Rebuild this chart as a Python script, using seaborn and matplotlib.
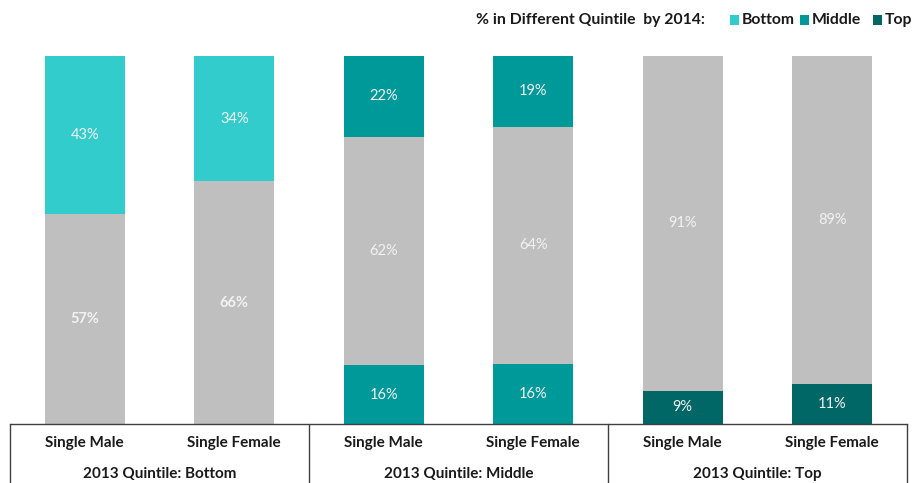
import matplotlib
matplotlib.use("Agg")
import matplotlib.pyplot as plt
import seaborn as sns
from matplotlib.patches import Rectangle

# chart data
groups = ["2013 Quintile: Bottom", "2013 Quintile: Middle", "2013 Quintile: Top"]
people = ["Single Male", "Single Female"]
lower_share = [0, 0, 16, 16.4, 9, 11]      # segment at the base of each bar
same_share = [57, 66, 62, 64.4, 91, 89]    # stayed in the same quintile (grey)
upper_share = [43, 34, 22, 19.2, 0, 0]     # segment at the top of each bar
legend_labels = ["Bottom", "Middle", "Top"]

c_bottom, c_middle, c_top = "#33CCCC", "#009999", "#006666"
c_same = "#BFBFBF"
lower_colors = [c_bottom, c_bottom, c_middle, c_middle, c_top, c_top]
upper_colors = [c_bottom, c_bottom, c_middle, c_middle, c_top, c_top]
bold_same = [True, True, False, False, False, False]

sns.set_style("white")
plt.rcParams["font.family"] = ["Lato", "DejaVu Sans"]

keys = [f"{g}|{p}" for g in groups for p in people]

fig = plt.figure(figsize=(9.14, 4.83), dpi=100)
ax = fig.add_axes([10 / 914, 59 / 483, 897 / 914, 368 / 483])

layers = [
    (lower_share, [0] * 6, lower_colors),
    (same_share, lower_share, [c_same] * 6),
    (upper_share, [a + b for a, b in zip(lower_share, same_share)], upper_colors),
]
for vals, base, cols in layers:
    sns.barplot(x=keys, y=vals, bottom=base, color=c_same, width=0.535,
                saturation=1, ax=ax, order=keys)
    for patch, col in zip(ax.containers[-1], cols):
        patch.set_facecolor(col)
        patch.set_edgecolor("none")

# value labels
for i in range(6):
    segs = [(lower_share[i], 0, False),
            (same_share[i], lower_share[i], bold_same[i]),
            (upper_share[i], lower_share[i] + same_share[i], False)]
    for v, b, bold in segs:
        if v > 0:
            ax.text(i, b + v / 2, f"{v:.0f}%", ha="center", va="center",
                    color="#F2F2F2", fontsize=10.5,
                    fontweight="bold" if bold else "normal")

ax.set_xlim(-0.5, 5.5)
ax.set_ylim(0, 100)
ax.set_yticks([])
ax.set_ylabel("")
ax.set_xticks(range(6))
ax.set_xticklabels(people * 3, fontsize=11, fontweight="bold", color="#1a1a1a")
ax.tick_params(axis="x", length=0, pad=9)
for s in ["left", "right", "top"]:
    ax.spines[s].set_visible(False)
ax.spines["bottom"].set_color("#404040")
ax.spines["bottom"].set_linewidth(1)

# group separators and group labels under the axis
trans = ax.get_xaxis_transform()
for xv in [-0.5, 1.5, 3.5, 5.5]:
    ax.plot([xv, xv], [0, -0.25], color="#404040", lw=1, transform=trans,
            clip_on=False)
for gi, g in enumerate(groups):
    ax.text(gi * 2 + 0.5, -0.135, g, transform=trans, ha="center", va="center",
            fontsize=11, fontweight="bold", color="#1a1a1a")

# legend across the top, laid out by hand
ly = 1 - 20 / 483
fig.text(476 / 914, ly, "% in Different Quintile  by 2014:",
         ha="left", va="center", fontsize=11.3, fontweight="bold", color="#1a1a1a")
for lab, col, x0 in zip(legend_labels, [c_bottom, c_middle, c_top], [730, 800, 873]):
    fig.patches.append(Rectangle((x0 / 914, ly - 4.5 / 483), 9 / 914, 9 / 483,
                                 facecolor=col, edgecolor="none",
                                 transform=fig.transFigure))
    fig.text((x0 + 12) / 914, ly, lab, ha="left", va="center", fontsize=11.3,
             fontweight="bold", color="#1a1a1a")

fig.savefig("out.png", dpi=100)
